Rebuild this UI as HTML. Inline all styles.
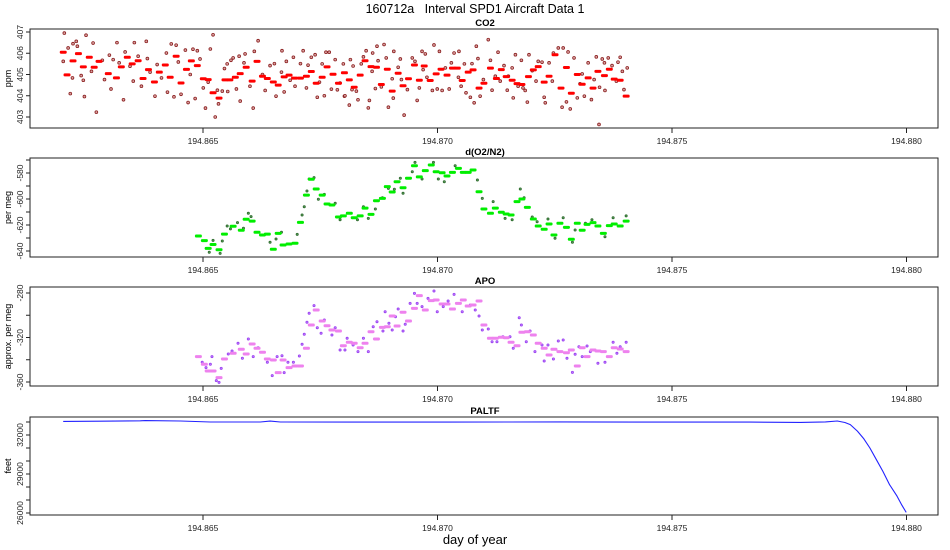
<!DOCTYPE html>
<html><head><meta charset="utf-8">
<style>
html,body{margin:0;padding:0;background:#fff;}
svg{display:block;font-family:"Liberation Sans",Arial,sans-serif;}
</style></head>
<body>
<svg id="chart" width="950" height="550" viewBox="0 0 950 550" xmlns="http://www.w3.org/2000/svg">
<text x="475" y="13" text-anchor="middle" font-size="12.5" fill="#000" style="white-space:pre" xml:space="preserve">160712a   Interval SPD1 Aircraft Data 1</text>
<text x="475" y="544" text-anchor="middle" font-size="13" fill="#000">day of year</text>
<g id="panels"></g>
</svg>
<script>
// ---- time base: seconds after day 194.86202 ----
const dayStart = 194.86202;
const xTicks = [194.865, 194.870, 194.875, 194.880];
const xTickLabels = ["194.865", "194.870", "194.875", "194.880"];

// CO2 10-s means
const co2DashT = [0,7,18,28,37,48,57,66,83,98,107,118,127,138,147,157,168,177,188,197,208,217,227,236,247,258,267,276,287,298,307,317,326,337,348,357,367,376,387,396,407,416,426,437,448,457,466,477,486,497,507,518,527,536,547,556,567,577,586,597,606,617,626,636,647,656,665,676,687,696,707,717,726,735,746,755,766,775,787,798,807,816,827,836,845,857,866,875,886,895,906,917,927,936,947,956,967,976,985,997,1006,1015,1026,1037];
const co2DashV = [406.05,404.98,405.64,405.98,405.36,405.81,405.34,405.62,405.04,404.84,405.36,405.81,405.5,405.65,404.81,405.23,404.65,405.11,405.45,404.87,405.86,404.6,405.24,405.64,405.42,404.8,404.76,404.14,403.89,404.75,404.75,404.87,405.04,405.34,404.69,405.62,404.92,404.81,404.65,404.5,404.89,404.97,404.83,404.83,404.92,405.14,404.59,404.87,405.36,405.01,404.59,405.08,404.75,404.4,404.97,405.65,405.37,405.34,404.53,405.25,404.22,405.06,404.47,404.8,405.45,404.73,405.4,404.72,405.03,405.25,404.97,405.3,405.3,404.72,405.11,405.22,404.36,404.59,405.3,404.81,405.23,404.9,404.73,404.57,404.53,404.9,405.22,405.37,404.64,404.92,405.93,404.36,405.33,404.12,405.0,404.54,404.84,404.36,405.15,404.95,405.25,404.78,404.73,403.98];
// CO2 raw samples
const co2RawT = [2,0,9,13,18,24,17,26,33,37,39,42,52,55,61,72,76,85,88,92,99,103,111,114,123,129,131,138,144,153,155,160,169,173,181,190,192,199,204,208,212,217,225,230,234,239,243,247,252,258,262,267,271,276,280,284,286,293,297,302,303,309,313,319,324,326,333,335,344,350,352,359,367,372,381,389,392,402,403,407,411,418,424,427,437,442,448,451,457,464,468,472,477,481,484,490,494,501,505,510,516,518,527,519,529,534,532,540,543,549,553,558,562,564,569,570,575,578,580,586,591,595,599,606,608,609,617,621,623,628,634,643,648,652,656,661,663,667,670,680,683,689,693,698,704,711,715,720,728,729,733,739,742,750,753,757,761,764,768,774,783,787,790,796,801,805,812,818,820,827,829,833,838,844,847,851,855,858,864,871,875,882,886,888,895,901,903,912,921,919,927,930,934,941,947,952,956,960,967,973,978,982,988,993,997,998,1004,1011,1019,1022,1026,1030,1033,1039,987];
const co2RawV = [406.95,405.62,406.25,404.1,406.45,406.56,404.84,406.33,404.95,404.73,403.96,406.85,405.15,406.48,403.23,405.67,404.76,405.91,404.32,405.7,406.5,405.55,403.81,406.06,405.39,404.69,406.5,405.86,404.45,406.56,405.75,405.11,403.98,405.47,404.84,406.01,404.17,406.44,403.95,406.38,405.59,404.07,406.15,403.68,405.0,406.19,403.87,406.12,405.73,404.37,403.42,404.64,406.2,406.87,403.0,404.26,403.62,404.22,405.28,405.5,404.2,405.67,405.78,404.32,405.86,403.75,405.55,405.97,404.45,403.42,406.09,406.59,405.0,404.25,405.42,405.51,403.98,405.11,406.12,404.18,405.62,404.73,405.81,404.45,405.51,406.12,404.37,405.44,405.81,405.93,403.93,404.64,405.5,404.0,406.05,406.05,404.31,405.7,404.28,404.6,405.5,403.98,403.56,404.0,405.7,405.4,404.29,404.22,403.81,405.5,405.83,406.12,403.43,403.78,405.15,406.01,404.34,406.33,405.65,404.42,406.41,405.78,403.46,404.8,403.89,406.09,405.34,405.73,404.76,403.09,404.29,405.78,405.62,403.78,404.37,406.09,405.23,405.97,404.87,404.25,406.39,404.32,406.09,404.25,405.31,404.32,405.55,406.01,404.87,406.09,404.45,405.5,404.14,403.93,405.51,403.67,406.33,405.75,403.98,404.76,406.64,405.67,404.26,404.92,406.05,404.69,405.42,404.26,404.92,405.31,403.9,405.93,404.45,405.67,404.37,404.25,403.7,405.93,405.18,404.69,405.62,405.58,403.93,403.67,405.55,404.69,406.01,406.25,406.25,403.46,403.71,406.06,403.38,405.78,403.9,404.56,405.03,403.98,405.55,403.82,404.76,405.83,404.4,405.73,405.55,404.25,405.78,405.42,404.69,405.58,405.81,405.15,404.29,405.31,402.65];

// d(O2/N2) and APO 10-s means (shared times)
const o2DashT = [249,260,267,276,287,297,313,328,337,348,357,367,376,387,396,405,416,427,437,448,457,466,477,486,495,507,516,527,536,547,556,567,577,588,597,606,615,626,636,647,656,667,678,687,698,707,717,728,737,746,755,766,775,787,796,807,816,825,836,845,855,866,875,886,895,904,915,927,936,947,956,965,976,985,995,1006,1015,1026,1037];
const o2DashV = [-628.5,-632,-638,-635,-639,-627,-621,-624,-615.6,-617,-625.6,-627.7,-627,-638.7,-626.4,-635.4,-634.6,-634,-618,-597,-584.8,-592.3,-597,-603.8,-604.6,-613.8,-613,-611,-614.4,-613,-607,-611.8,-601.3,-599.5,-590.5,-594.6,-586.7,-591.3,-584,-574.4,-583,-578.2,-573.8,-579,-579.8,-582.3,-579.5,-576.4,-579.5,-579.5,-577.7,-594.4,-607.7,-611,-607,-610.2,-611.5,-612.3,-602,-600,-606.4,-615.4,-620.8,-623.3,-619.2,-627.7,-618.7,-621.8,-631,-618.7,-624,-619.5,-618.2,-620.8,-626.4,-620.5,-619.2,-620.8,-617];
const o2RawT = [269,276,289,293,302,308,321,332,341,346,381,392,402,431,440,444,449,453,462,470,481,501,510,542,553,562,575,588,599,610,621,626,643,648,661,682,691,702,722,763,772,792,814,827,842,849,864,873,893,906,921,938,943,962,974,998,1013,1037];
const o2RawV = [-641,-631.8,-641.8,-632.3,-620.8,-623,-618.2,-622.5,-611,-613.6,-633.3,-630.8,-625.6,-627.2,-612.3,-606,-593.8,-584.6,-583.6,-600.2,-596.4,-603.3,-616,-616,-606,-614.9,-607.7,-599,-591.8,-592.5,-584,-595.6,-579,-571.8,-584.6,-571.8,-584.6,-586.7,-574.4,-585.4,-599.5,-602,-614.9,-616,-592.3,-599,-613.8,-617.5,-615.4,-630.2,-614.4,-633.3,-623.8,-618.7,-616,-629,-614.4,-613];

const apoDashV = [-337.2,-344.1,-350.1,-350.1,-356.1,-339.3,-334.2,-330.6,-334.8,-325.8,-329.7,-333.3,-339.3,-340.2,-351.6,-340.2,-347.1,-345.6,-345.6,-329.7,-308.8,-295.3,-305.2,-309.4,-313.3,-314.2,-327.4,-324.3,-325.2,-329.2,-325.2,-314.8,-321.3,-310.9,-310.3,-300.7,-309.7,-297.3,-305.2,-293.8,-282.4,-295.3,-286.9,-286.3,-289.9,-289.9,-294.4,-289.3,-286.3,-291.7,-290.8,-287.2,-308.8,-320.7,-320.7,-319.8,-320.2,-324.3,-327.4,-315.3,-314.8,-317.8,-325.2,-329.7,-335.7,-330.6,-332.7,-333.7,-331.2,-345.6,-329.2,-337.2,-331.2,-332.1,-332.7,-337.2,-329.2,-330.3,-332.7];
const apoRawT = [256,263,271,274,282,287,291,304,311,322,330,341,350,359,376,385,394,403,407,414,424,435,440,444,449,453,462,468,475,481,495,501,510,519,523,534,543,553,562,571,578,589,593,600,606,612,617,626,630,639,647,652,661,672,683,689,700,709,720,735,750,759,766,772,783,790,799,810,823,829,840,844,853,860,869,882,886,893,903,912,921,928,938,943,950,956,965,971,985,998,1013,1020,1026,1037];
const apoRawV = [-342.3,-347.1,-344.1,-337.2,-358.8,-360.3,-347.7,-334.8,-332.1,-325.2,-338.7,-321.3,-337.2,-329.2,-342.3,-354.3,-337.2,-336.4,-351.6,-342.3,-342.3,-336.6,-326.1,-317.1,-306.3,-298.2,-291.4,-311.2,-316.2,-304.3,-317.8,-311.2,-331.2,-331.2,-320.7,-326.7,-332.7,-320.7,-332.7,-310.3,-305.8,-314.2,-296.8,-307.2,-313.3,-301.3,-294.4,-314.2,-308.1,-289.3,-280.3,-289.3,-292.3,-284.8,-278.2,-296.8,-292.3,-287.2,-281.2,-296.8,-290.8,-295.3,-300.7,-313.3,-312.4,-323.8,-323.8,-319.3,-319.3,-329.7,-302.2,-308.8,-323.8,-314.2,-332.7,-326.7,-341.1,-326.7,-339.3,-323.1,-322.2,-338.7,-351.3,-335.1,-328.3,-337.2,-327.6,-332.7,-343.2,-342.3,-324.3,-334.2,-328.3,-324.3];

// PALTF
const altT = [0,68,142,151,216,271,363,381,400,529,713,915,1081,1265,1358,1404,1426,1440,1450,1463,1475,1486,1498,1510,1522,1536,1545,1553];
const altV = [33050,33060,33090,33110,33080,33000,33000,33070,33000,32990,32990,33010,32990,32990,32970,33010,33080,32960,32800,32300,31700,31000,30100,29200,28200,27300,26600,26050];

// y-axis tick definitions
const co2Ticks = [403,404,405,406,407];
const o2Ticks = [-570,-580,-590,-600,-610,-620,-630,-640];
const o2Labels = [-580,-600,-620,-640];
const apoTicks = [-280,-300,-320,-340,-360];
const apoLabels = [-280,-320,-360];
const altTicks = [33000,32000,31000,30000,29000,28000,27000,26000];
const altLabels = [32000,29000,26000];

const NS = "http://www.w3.org/2000/svg";
const root = document.getElementById('panels');
const PL = 30, PR = 938;
function xOfDay(d){ return 203 + (d - 194.865) * 46900; }
function xOfSec(s){ return xOfDay(dayStart + s / 86400); }
function mk(tag, attrs, parent){
  const e = document.createElementNS(NS, tag);
  for (const k in attrs) e.setAttribute(k, attrs[k]);
  (parent || root).appendChild(e);
  return e;
}
function yScale(v0, y0, v1, y1){ return v => y0 + (v - v0) * (y1 - y0) / (v1 - v0); }

function panel(name, top, bottom, title, ylab, yFn, ticks, labels){
  const g = mk('g', {});
  
  
  const box = mk('rect', {x: PL, y: top, width: PR - PL, height: bottom - top, fill: 'none', stroke: '#222', 'stroke-width': 1}, g);
  
  
  const t = mk('text', {x: 485, y: top - 3, 'text-anchor': 'middle', 'font-size': 9.5, 'font-weight': 'bold'}, g);
  t.textContent = title;
  
  
  const yl = mk('text', {transform: `translate(11,${(top + bottom) / 2}) rotate(-90)`, 'text-anchor': 'middle', 'font-size': 9}, g);
  yl.textContent = ylab;
  
  
  ticks.forEach(v => {
    const y = yFn(v);
    const tk = mk('line', {x1: PL - 4, x2: PL, y1: y, y2: y, stroke: '#222'}, g);
    
    
  });
  labels.forEach(v => {
    const y = yFn(v);
    const lb = mk('text', {transform: `translate(${PL - 7},${y}) rotate(-90)`, 'text-anchor': 'middle', 'font-size': 8.5, fill: '#222'}, g);
    lb.textContent = String(v);
    
    
  });
  xTicks.forEach((d, i) => {
    const x = xOfDay(d);
    const tk = mk('line', {x1: x, x2: x, y1: bottom, y2: bottom + 5, stroke: '#222'}, g);
    
    
    const lb = mk('text', {x: x, y: bottom + 16, 'text-anchor': 'middle', 'font-size': 8.5, fill: '#222'}, g);
    lb.textContent = xTickLabels[i];
    
    
  });
  return g;
}
function rawPoints(g, name, T, V, yFn, fill, stroke, r){
  T.forEach((s, i) => {
    const c = mk('circle', {cx: xOfSec(s), cy: yFn(V[i]), r: r, fill: fill, stroke: stroke, 'stroke-width': 0.8}, g);
    
    
  });
}
function dashes(g, name, T, V, yFn, color){
  T.forEach((s, i) => {
    const x = xOfSec(s);
    const d = mk('rect', {x: x - 3.5, y: yFn(V[i]) - 1.5, width: 7, height: 3, rx: 1.2, fill: color}, g);
    
    
  });
}

// CO2
const yCO2 = yScale(407, 32, 403, 117);
const g1 = panel('co2', 29, 128, 'CO2', 'ppm', yCO2, co2Ticks, co2Ticks);
rawPoints(g1, 'co2', co2RawT, co2RawV, yCO2, '#d9a0a0', '#8b2020', 1.4);
dashes(g1, 'co2', co2DashT, co2DashV, yCO2, '#ff0000');

// d(O2/N2)
const yO2 = yScale(-580, 173, -640, 251);
const g2 = panel('o2n2', 158, 257, 'd(O2/N2)', 'per meg', yO2, o2Ticks, o2Labels);
rawPoints(g2, 'o2n2', o2RawT, o2RawV, yO2, '#5a9a5a', '#2e6b2e', 1.1);
dashes(g2, 'o2n2', o2DashT, o2DashV, yO2, '#00ee00');

// APO
const yAPO = yScale(-280, 293, -360, 382);
const g3 = panel('apo', 287, 386, 'APO', 'approx. per meg', yAPO, apoTicks, apoLabels);
rawPoints(g3, 'apo', apoRawT, apoRawV, yAPO, '#c080ff', '#9a40f0', 1.1);
dashes(g3, 'apo', o2DashT, apoDashV, yAPO, '#ee82ee');

// PALTF
const yAlt = yScale(33000, 422, 26000, 513);
const pts = altT.map((s, i) => xOfSec(s).toFixed(1) + ',' + yAlt(altV[i]).toFixed(1)).join(' ');
const g4 = panel('paltf', 417, 515, 'PALTF', 'feet', yAlt, altTicks, altLabels);
const ln = mk('polyline', {points: pts, fill: 'none', stroke: '#2222ff', 'stroke-width': 1.1, 'stroke-linejoin': 'round'}, g4);


</script>
</body></html>
